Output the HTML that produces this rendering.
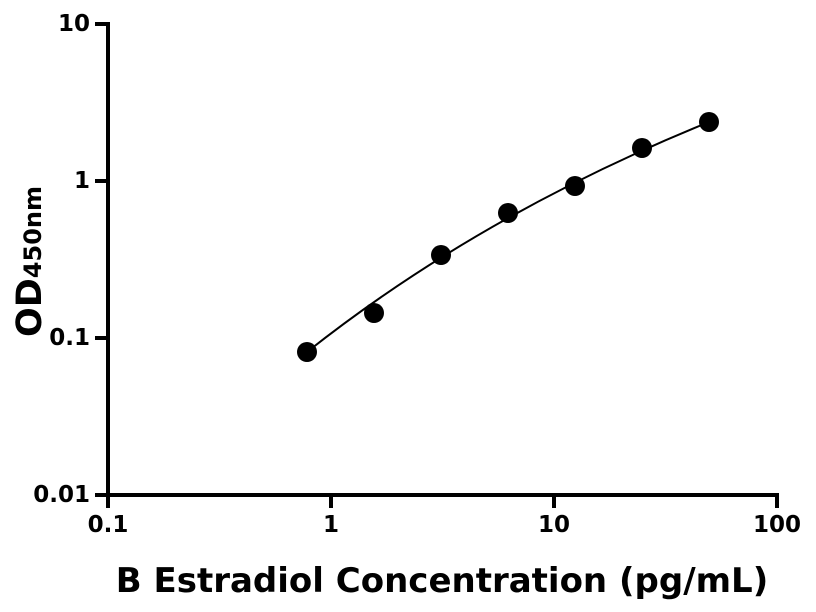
<!DOCTYPE html>
<html><head><style>body{margin:0;background:#fff}svg{display:block}</style></head><body>
<svg width="816" height="612" viewBox="0 0 816 612" xmlns="http://www.w3.org/2000/svg" font-family="DejaVu Sans, Liberation Sans, sans-serif" font-weight="bold">
<g stroke="#000" stroke-width="4" fill="none">
<line x1="108" y1="22" x2="108" y2="497"/>
<line x1="106" y1="495" x2="779" y2="495"/>
<line x1="95" y1="24" x2="108" y2="24"/>
<line x1="95" y1="181" x2="108" y2="181"/>
<line x1="95" y1="338" x2="108" y2="338"/>
<line x1="95" y1="495" x2="108" y2="495"/>
<line x1="108" y1="495" x2="108" y2="508"/>
<line x1="331" y1="495" x2="331" y2="508"/>
<line x1="554" y1="495" x2="554" y2="508"/>
<line x1="777" y1="495" x2="777" y2="508"/>
</g>
<g font-size="23" text-anchor="end">
<text x="90" y="31">10</text>
<text x="90" y="188">1</text>
<text x="90" y="345">0.1</text>
<text x="90" y="502">0.01</text>
</g>
<g font-size="23" text-anchor="middle">
<text x="108" y="532">0.1</text>
<text x="331" y="532">1</text>
<text x="554" y="532">10</text>
<text x="777" y="532">100</text>
</g>
<text x="442" y="592" font-size="34" text-anchor="middle">B Estradiol Concentration (pg/mL)</text>
<text transform="translate(41,337) rotate(-90)" font-size="35">OD<tspan font-size="24">450nm</tspan></text>
<path d="M307,352 Q480,215 709,122" stroke="#000" stroke-width="2" fill="none"/>
<g fill="#000">
<circle cx="307" cy="352" r="10"/>
<circle cx="374" cy="313" r="10"/>
<circle cx="441" cy="255" r="10"/>
<circle cx="508" cy="213" r="10"/>
<circle cx="575" cy="186" r="10"/>
<circle cx="642" cy="148" r="10"/>
<circle cx="709" cy="122" r="10"/>
</g>
</svg>
</body></html>
